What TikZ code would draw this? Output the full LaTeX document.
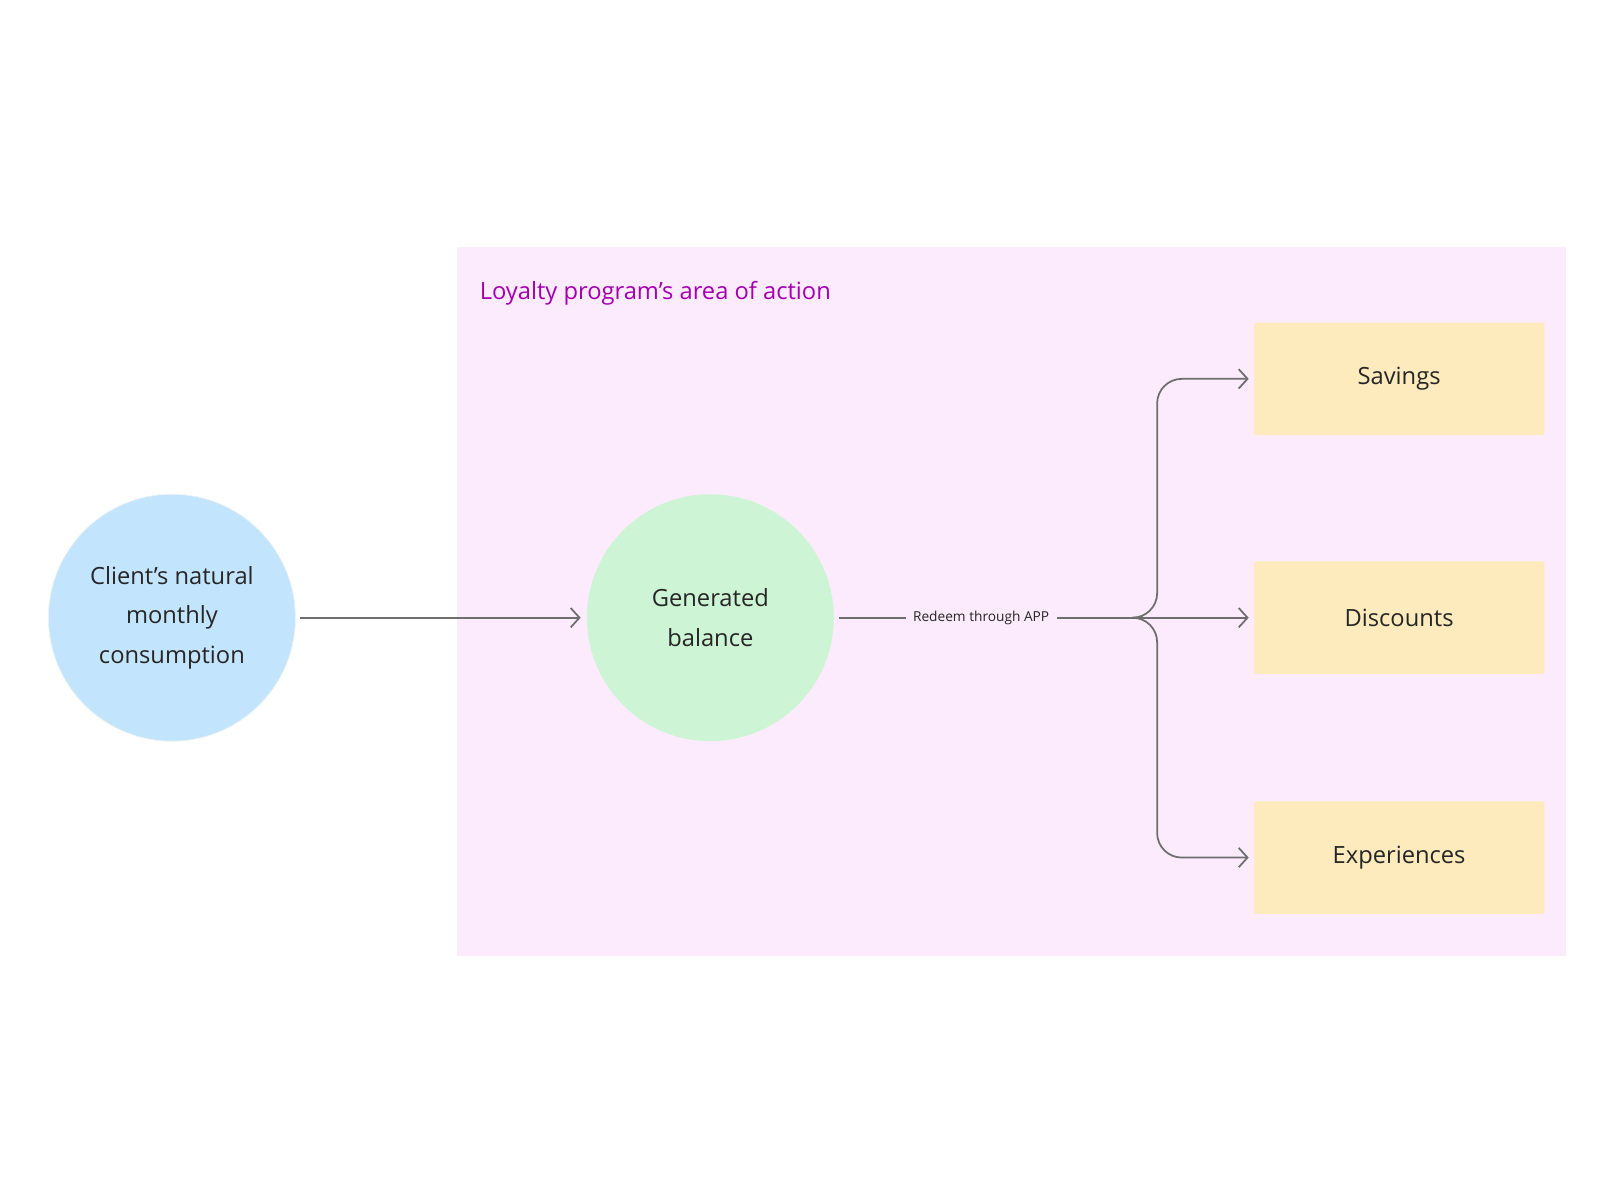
\documentclass[tikz,border=0pt]{standalone}
\usepackage{fontspec}
\setmainfont{Open Sans}
\usetikzlibrary{positioning,arrows.meta,calc}
\definecolor{areapink}{HTML}{FCEBFC}
\definecolor{titlepurple}{HTML}{A300B0}
\definecolor{clientblue}{HTML}{C2E5FD}
\definecolor{balancegreen}{HTML}{CDF4D4}
\definecolor{boxyellow}{HTML}{FDEABD}
\definecolor{linegray}{HTML}{6E6E6E}
\tikzset{
  round/.style={circle, minimum size=4.94cm, align=center, font=\fontsize{13.5}{22.5}\selectfont, text=black!85},
  option/.style={rectangle, rounded corners=1pt, fill=boxyellow, minimum width=5.81cm, minimum height=2.25cm, font=\fontsize{13.5}{16}\selectfont, text=black!85},
  flow/.style={-{Straight Barb[length=5pt,width=11pt]}, draw=linegray, line width=1pt, shorten >=1pt}
}
\begin{document}
\begin{tikzpicture}[x=0.0206cm, y=-0.0206cm]
            \useasboundingbox (0,0) rectangle (1560,1165);
            \fill[areapink] (444,240) rectangle (1521,929);
            \node[anchor=west, text=titlepurple, font=\fontsize{13.5}{16}\selectfont] (title) at (460,285) {Loyalty program’s area of action};

            \node[round, fill=clientblue, draw=clientblue!80!black!20] (client) at (167,600) {Client’s natural\\monthly\\consumption};
            \node[round, fill=balancegreen] (balance) at (690,600) {Generated\\balance};

            \node[option] (savings) at (1359,368) {Savings};
            \node[option] (discounts) at (1359,600) {Discounts};
            \node[option] (experiences) at (1359,833) {Experiences};

            \node[font=\fontsize{7.8}{9}\selectfont, text=black!85, inner sep=4pt] (redeem) at (953,600) {Redeem through APP};
            \coordinate (split) at (1110,600);

            \draw[flow] ($(client.east)+(4,0)$) -- ($(balance.west)+(-4,0)$);
            \draw[draw=linegray, line width=1pt] ($(balance.east)+(5,0)$) -- (redeem.west);
            \draw[flow] (redeem.east) -- ($(discounts.west)+(-3,0)$);
            \draw[flow, rounded corners=14] (split) -| (1124,368) -- ($(savings.west)+(-3,0)$);
            \draw[flow, rounded corners=14] (split) -| (1124,833) -- ($(experiences.west)+(-3,0)$);
\end{tikzpicture}
\end{document}
